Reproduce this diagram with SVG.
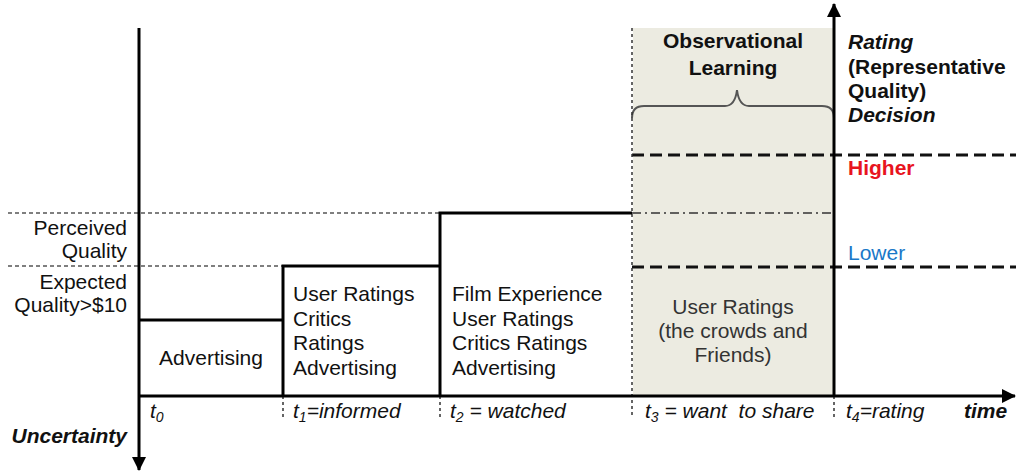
<svg xmlns="http://www.w3.org/2000/svg" width="1016" height="473" viewBox="0 0 1016 473">
<defs>
<marker id="arr" markerUnits="userSpaceOnUse" markerWidth="14" markerHeight="14" viewBox="0 0 14 14" refX="13" refY="7" orient="auto">
<path d="M0,0 L14,7 L0,14 Z" fill="#000"/>
</marker>
</defs>
<style>
text{font-family:"Liberation Sans",Arial,sans-serif;font-size:21px;fill:#111}
.b{font-weight:bold}
.i{font-style:italic}
.axis{stroke:#000;stroke-width:3;fill:none}
.box{stroke:#000;stroke-width:3;fill:none}
.thin{stroke:#555;stroke-width:1.5;stroke-dasharray:4 3;fill:none}
.thick{stroke:#111;stroke-width:3;stroke-dasharray:12 6;fill:none}
.dot{stroke:#333;stroke-width:1.5;stroke-dasharray:3 3;fill:none}
.dashdot{stroke:#333;stroke-width:1.5;stroke-dasharray:9 4 2 4;fill:none}
.r{text-anchor:end}
.m{text-anchor:middle}
</style>
<rect width="1016" height="473" fill="#fff"/>
<g id="observational-region">
<rect x="633" y="28" width="201" height="368" fill="#ecebe1"/>
<path d="M632,118 Q632,106 644,106 L725,106 Q735,106 737,90 Q739,106 749,106 L822,106 Q834,106 834,118" fill="none" stroke="#555" stroke-width="2"/>
<text class="b m" x="733" y="48">Observational</text>
<text class="b m" x="733" y="75">Learning</text>
<text class="m" x="733" y="314" style="fill:#333">User Ratings</text>
<text class="m" x="733" y="338" style="fill:#333">(the crowds and</text>
<text class="m" x="733" y="362" style="fill:#333">Friends)</text>
</g>
<g id="connectors">
<line class="thin" x1="8" y1="213" x2="440" y2="213"/>
<line class="thin" x1="8" y1="266" x2="283" y2="266"/>
<line class="dashdot" x1="632" y1="213" x2="834" y2="213"/>
<line class="thick" x1="632" y1="155" x2="1016" y2="155"/>
<line class="thick" x1="632" y1="267" x2="1016" y2="267"/>
<line class="dot" x1="632" y1="28" x2="632" y2="417"/>
<line class="dot" x1="283" y1="396" x2="283" y2="417"/>
<line class="dot" x1="440" y1="396" x2="440" y2="417"/>
<line class="dot" x1="834" y1="396" x2="834" y2="417"/>
<line class="axis" x1="139" y1="28" x2="139" y2="470" marker-end="url(#arr)"/>
<line class="axis" x1="834" y1="396" x2="834" y2="4" marker-end="url(#arr)"/>
<line class="axis" x1="139" y1="396" x2="1015" y2="396" marker-end="url(#arr)"/>
</g>
<g id="box-t0">
<polyline class="box" points="139,320 283,320"/>
<text class="m" x="211" y="365">Advertising</text>
</g>
<g id="box-t1">
<polyline class="box" points="283,396 283,266 440,266"/>
<text x="293" y="301">User Ratings</text>
<text x="293" y="326">Critics</text>
<text x="293" y="350">Ratings</text>
<text x="293" y="375">Advertising</text>
</g>
<g id="box-t2">
<polyline class="box" points="440,396 440,213 632,213"/>
<text x="452" y="301">Film Experience</text>
<text x="452" y="326">User Ratings</text>
<text x="452" y="350">Critics Ratings</text>
<text x="452" y="375">Advertising</text>
</g>
<g id="left-labels">
<text class="r" x="127" y="235">Perceived</text>
<text class="r" x="127" y="258">Quality</text>
<text class="r" x="127" y="289">Expected</text>
<text class="r" x="127" y="312">Quality&gt;$10</text>
<text class="b i r" x="127" y="443">Uncertainty</text>
</g>
<g id="right-labels">
<text class="b i" x="848" y="49">Rating</text>
<text class="b" x="848" y="74">(Representative</text>
<text class="b" x="848" y="98">Quality)</text>
<text class="b i" x="848" y="122">Decision</text>
<text class="b" x="848" y="175" style="fill:#e8141e">Higher</text>
<text x="848" y="260" style="fill:#1a78c8">Lower</text>
</g>
<g id="time-labels">
<text class="i" x="150" y="418">t<tspan font-size="14" dy="4">0</tspan></text>
<text class="i" x="293" y="418">t<tspan font-size="14" dy="4">1</tspan><tspan dy="-4">=informed</tspan></text>
<text class="i" x="450" y="418">t<tspan font-size="14" dy="4">2</tspan><tspan dy="-4"> = watched</tspan></text>
<text class="i" x="645" y="418" xml:space="preserve">t<tspan font-size="14" dy="4">3</tspan><tspan dy="-4"> = want  to share</tspan></text>
<text class="i" x="846" y="418">t<tspan font-size="14" dy="4">4</tspan><tspan dy="-4">=rating</tspan></text>
<text class="b i" x="964" y="418">time</text>
</g>
</svg>
